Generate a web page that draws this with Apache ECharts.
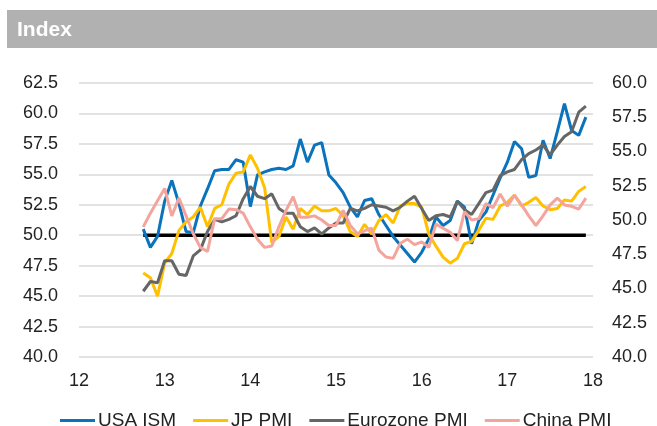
<!DOCTYPE html>
<html>
<head>
	<meta charset="UTF-8">
	<title>Index</title>
	<script src="https://cdn.jsdelivr.net/npm/echarts@6/dist/echarts.min.js"></script>
	<style>
		html, body { margin: 0; padding: 0; background: #fff; }
		#chart { width: 657px; height: 426px; }
	</style>
</head>
<body>
	<div id="chart"></div>
	<script type="text/javascript">
		// monthly readings, Oct 2012 .. Dec 2017
		var startYear = 2012, startMonth = 10, monthCount = 63;
		var xTicks = ['12', '13', '14', '15', '16', '17', '18'];
		var leftTicks = ['40.0', '42.5', '45.0', '47.5', '50.0', '52.5', '55.0', '57.5', '60.0', '62.5'];
		var rightTicks = ['40.0', '42.5', '45.0', '47.5', '50.0', '52.5', '55.0', '57.5', '60.0'];
		var threshold = 50;

		var usaIsm = [50.5, 49.0, 49.9,
			52.8, 54.5, 52.6, 50.3, 50.2, 52.4, 53.8, 55.3, 55.4, 55.4, 56.2, 56.0,
			52.35, 54.95, 55.2, 55.4, 55.5, 55.4, 55.7, 57.9, 56.0, 57.4, 57.6, 54.95,
			54.3, 53.5, 52.3, 51.5, 52.85, 53.0, 51.7, 50.8, 49.9, 49.2, 48.5, 47.8,
			48.6, 49.7, 51.5, 50.8, 51.2, 52.8, 52.3, 49.3, 51.2, 51.9, 53.3, 54.7,
			56.0, 57.7, 57.1, 54.75, 54.9, 57.8, 56.3, 58.5, 60.8, 58.6, 58.2, 59.7];
		var jpPmi = [46.9, 46.5, 45.0,
			47.7, 48.5, 50.4, 51.1, 51.5, 52.3, 50.7, 52.2, 52.5, 54.2, 55.1, 55.2,
			56.6, 55.5, 53.9, 49.4, 49.9, 51.5, 50.5, 52.2, 51.7, 52.4, 52.0, 52.0,
			52.2, 51.6, 50.3, 49.9, 50.9, 50.1, 51.2, 51.7, 51.0, 52.4, 52.6, 52.6,
			52.3, 50.1, 49.1, 48.2, 47.7, 48.1, 49.3, 49.5, 50.4, 51.4, 51.3, 52.4,
			52.7, 53.3, 52.4, 52.7, 53.1, 52.4, 52.1, 52.2, 52.9, 52.8, 53.6, 54.0];
		var euroPmi = [45.4, 46.2, 46.1,
			47.9, 47.9, 46.8, 46.7, 48.3, 48.8, 50.3, 51.3, 51.1, 51.3, 51.6, 53.0,
			54.0, 53.2, 53.0, 53.4, 52.2, 51.8, 51.8, 50.7, 50.3, 50.6, 50.1, 50.6,
			51.0, 51.0, 52.2, 52.0, 52.2, 52.5, 52.4, 52.3, 52.0, 52.3, 52.8, 53.2,
			52.2, 51.2, 51.6, 51.7, 51.5, 52.8, 52.1, 51.7, 52.6, 53.5, 53.7, 54.9,
			55.2, 55.4, 56.2, 56.7, 57.0, 57.4, 56.6, 57.4, 58.1, 58.5, 60.1, 60.6];
		var chinaPmi = [49.5, 50.5, 51.4,
			52.3, 50.3, 51.6, 50.3, 49.0, 48.0, 47.7, 50.1, 50.1, 50.8, 50.75, 50.5,
			49.5, 48.6, 48.0, 48.1, 49.5, 50.7, 51.7, 50.2, 50.2, 50.3, 50.0, 49.6,
			49.6, 50.7, 49.6, 49.0, 49.2, 49.4, 47.8, 47.3, 47.2, 48.3, 48.6, 48.2,
			48.4, 48.0, 49.7, 49.4, 49.1, 48.5, 50.6, 50.0, 50.1, 51.2, 50.9, 51.9,
			51.0, 51.8, 51.1, 50.3, 49.6, 50.3, 51.1, 51.6, 51.1, 51.0, 50.8, 51.6];

		// month -> fractional year on the time axis
		var months = [];
		for (var i = 0; i < monthCount; i++) {
			var m = startMonth - 1 + i;
			months.push(startYear + Math.floor(m / 12) + (m % 12) / 12);
		}
		function pairs(vals) {
			return vals.map(function (v, i) { return [months[i], v]; });
		}

		var font = "'Liberation Sans', Arial, sans-serif";
		var chart = echarts.init(document.getElementById('chart'));
		var option = {
			animation: false,
			backgroundColor: '#fff',
			graphic: [
				{ type: 'rect', left: 7, top: 10, shape: { width: 650, height: 38 }, style: { fill: '#b1b1b1' } },
				{ type: 'text', left: 17, top: 20, style: { text: 'Index', fill: '#fff', font: "bold 21px 'Liberation Sans Narrow', 'Arial Narrow', sans-serif" } }
			],
			grid: { left: 79, right: 64, top: 83, bottom: 69 },
			legend: {
				top: 406, left: 55,
				icon: 'rect', itemWidth: 35, itemHeight: 3, itemGap: 17,
				textStyle: { fontFamily: font, fontSize: 19, color: '#222', padding: [0, 0, 0, -2] },
				data: ['USA ISM', 'JP PMI', 'Eurozone PMI', 'China PMI']
			},
			xAxis: {
				type: 'value', min: 2012, max: 2018, interval: 1,
				axisLine: { show: false }, axisTick: { show: false }, splitLine: { show: false },
				axisLabel: {
					fontFamily: font, fontSize: 18, color: '#222', margin: 15,
					formatter: function (v) { return xTicks[Math.round(v - startYear)]; }
				}
			},
			yAxis: [{
				type: 'value', min: 40, max: 62.5, interval: 2.5,
				axisLine: { show: false }, axisTick: { show: false },
				splitLine: { lineStyle: { color: '#d9d9d9', width: 1.5 } },
				axisLabel: {
					fontFamily: font, fontSize: 18, color: '#222', margin: 21,
					formatter: function (v) { return leftTicks[Math.round((v - 40) / 2.5)]; }
				}
			}, {
				type: 'value', min: 40, max: 60, interval: 2.5, position: 'right',
				axisLine: { show: false }, axisTick: { show: false }, splitLine: { show: false },
				axisLabel: {
					fontFamily: font, fontSize: 18, color: '#222', margin: 19,
					formatter: function (v) { return rightTicks[Math.round((v - 40) / 2.5)]; }
				}
			}],
			series: [{
				name: '50', type: 'line', showSymbol: false, silent: true,
				data: [[months[0], threshold], [months[monthCount - 1], threshold]],
				lineStyle: { color: '#000', width: 3.5 }, z: 1
			}, {
				name: 'USA ISM', type: 'line', showSymbol: false, data: pairs(usaIsm),
				itemStyle: { color: '#0a73bb' }, lineStyle: { width: 3 }
			}, {
				name: 'JP PMI', type: 'line', showSymbol: false, data: pairs(jpPmi),
				itemStyle: { color: '#ffc000' }, lineStyle: { width: 3 }
			}, {
				name: 'Eurozone PMI', type: 'line', showSymbol: false, data: pairs(euroPmi),
				itemStyle: { color: '#666666' }, lineStyle: { width: 3 }
			}, {
				name: 'China PMI', type: 'line', yAxisIndex: 1, showSymbol: false, data: pairs(chinaPmi),
				itemStyle: { color: '#f3a59d' }, lineStyle: { width: 3 }
			}]
		};
		chart.setOption(option);
	</script>
</body>
</html>
